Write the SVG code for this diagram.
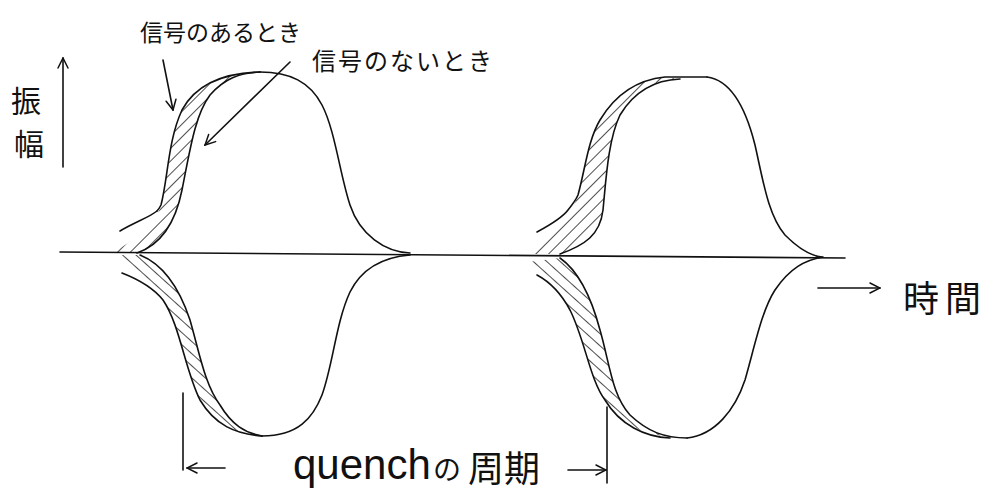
<svg xmlns="http://www.w3.org/2000/svg" width="986" height="503" viewBox="0 0 986 503">
<defs>
<style>
.ln{fill:none;stroke:#111;stroke-width:1.6;stroke-linecap:round;stroke-linejoin:round}
.jp{font-family:"Noto Sans CJK JP","Noto Sans",sans-serif;fill:#111}
.lat{font-family:"Liberation Sans","DejaVu Sans",sans-serif;fill:#111}
</style>
<pattern id="hup" patternUnits="userSpaceOnUse" width="9" height="9" patternTransform="rotate(45)">
<line x1="0" y1="0" x2="0" y2="9" stroke="#000" stroke-width="1.4"/>
</pattern>
<pattern id="hdn" patternUnits="userSpaceOnUse" width="9" height="9" patternTransform="rotate(-48)">
<line x1="0" y1="0" x2="0" y2="9" stroke="#000" stroke-width="1.4"/>
</pattern>
<marker id="ah" viewBox="0 0 12 12" refX="11" refY="6" markerWidth="12" markerHeight="12" markerUnits="userSpaceOnUse" orient="auto">
<path d="M1,1 L11,6 L1,11" fill="none" stroke="#111" stroke-width="1.5" stroke-linecap="round"/>
</marker>
</defs>
<rect width="986" height="503" fill="#fff"/>

<g id="axis">
<path class="ln" d="M60,252 L845,258"/>
</g>

<g id="pulse1">
<path d="M113,253 C135,238 155,228 161,205 C168,178 168,140 182,110 C195,86 222,73 260,72 C240,73 225,78 210,95 C195,115 190,150 182,190 C175,225 160,245 137,253 Z" fill="url(#hup)"/>
<path class="ln" d="M137,253 C160,245 175,225 182,190 C190,150 195,115 210,95 C225,78 240,73 260,72"/>
<path class="ln" d="M120,231 C135,222 150,217 157,211"/>
<path class="ln" d="M157,211 C159,209 160,207 161,205 C168,178 168,140 182,110 C195,86 222,73 260,72"/>
<path class="ln" d="M260,72 C290,72 310,82 322,105 C335,130 340,175 350,205 C360,235 385,252 410,253"/>
<path d="M113,255 C130,270 150,280 163,300 C180,325 185,370 200,400 C215,425 235,434 262,436 C245,433 232,425 220,405 C205,385 200,355 190,320 C180,290 165,265 140,255 Z" fill="url(#hdn)"/>
<path class="ln" d="M140,255 C165,265 180,290 190,320 C200,355 205,385 220,405 C232,425 245,433 262,436"/>
<path class="ln" d="M122,273 C140,280 155,290 163,300 C180,325 185,370 200,400 C215,425 235,434 262,436"/>
<path class="ln" d="M262,436 C298,436 313,418 322,395 C333,365 336,322 350,292 C363,266 385,257 410,255"/>
</g>

<g id="pulse2">
<path d="M530,254 C550,235 570,220 578,195 C585,170 588,140 600,120 C615,95 635,80 665,77 L680,79 C655,80 635,90 620,115 C608,140 606,180 603,210 C600,235 585,245 560,254 Z" fill="url(#hup)"/>
<path class="ln" d="M537,232 C550,225 562,218 568,210 C572,205 576,200 578,195 C585,170 588,140 600,120 C615,95 635,80 665,77 L707,77"/>
<path class="ln" d="M560,254 C585,245 600,235 603,210 C606,180 608,140 620,115 C635,90 655,80 680,79"/>
<path class="ln" d="M707,77 C730,80 745,105 755,145 C763,180 768,215 785,235 C800,250 812,256 822,257"/>
<path d="M528,262 C545,275 560,290 570,310 C585,340 590,380 605,400 C620,425 645,437 687,438 C665,438 648,432 630,415 C612,395 610,365 600,330 C592,300 580,272 560,258 Z" fill="url(#hdn)"/>
<path class="ln" d="M537,275 C550,282 562,295 570,310 C585,340 590,380 605,400 C620,425 645,437 670,438"/>
<path class="ln" d="M560,258 C580,272 592,300 600,330 C610,365 612,395 630,415 C648,432 665,438 687,438"/>
<path class="ln" d="M687,438 C715,435 735,410 745,380 C755,345 762,310 775,290 C790,268 805,260 823,257"/>
</g>

<g id="connectors">
<path class="ln" d="M63,167 L63,58" marker-end="url(#ah)"/>
<path class="ln" d="M163,60 L173,110" marker-end="url(#ah)"/>
<path class="ln" d="M290,62 L205,145" marker-end="url(#ah)"/>
<path class="ln" d="M818,288 L880,288" marker-end="url(#ah)"/>
<path class="ln" d="M183,393 L183,470"/>
<path class="ln" d="M225,468 L187,468" marker-end="url(#ah)"/>
<path class="ln" d="M607,407 L607,483"/>
<path class="ln" d="M568,470 L606,470" marker-end="url(#ah)"/>
</g>

<g id="label-with-signal"><text class="jp" x="140" y="41" font-size="23">信号のあるとき</text></g>
<g id="label-without-signal"><text class="jp" x="312" y="70" font-size="24" letter-spacing="2">信号のないとき</text></g>
<g id="label-amplitude">
<text class="jp" x="11" y="112" font-size="30">振</text>
<text class="jp" x="14" y="155" font-size="30">幅</text>
</g>
<g id="label-time"><text class="jp" x="903" y="312" font-size="36" letter-spacing="6">時間</text></g>
<g id="label-quench">
<text x="293" y="479"><tspan class="lat" font-size="42">quench</tspan><tspan class="jp" x="433" y="480" font-size="28">の</tspan><tspan class="jp" x="468" y="482" font-size="36">周期</tspan></text>
</g>
</svg>
